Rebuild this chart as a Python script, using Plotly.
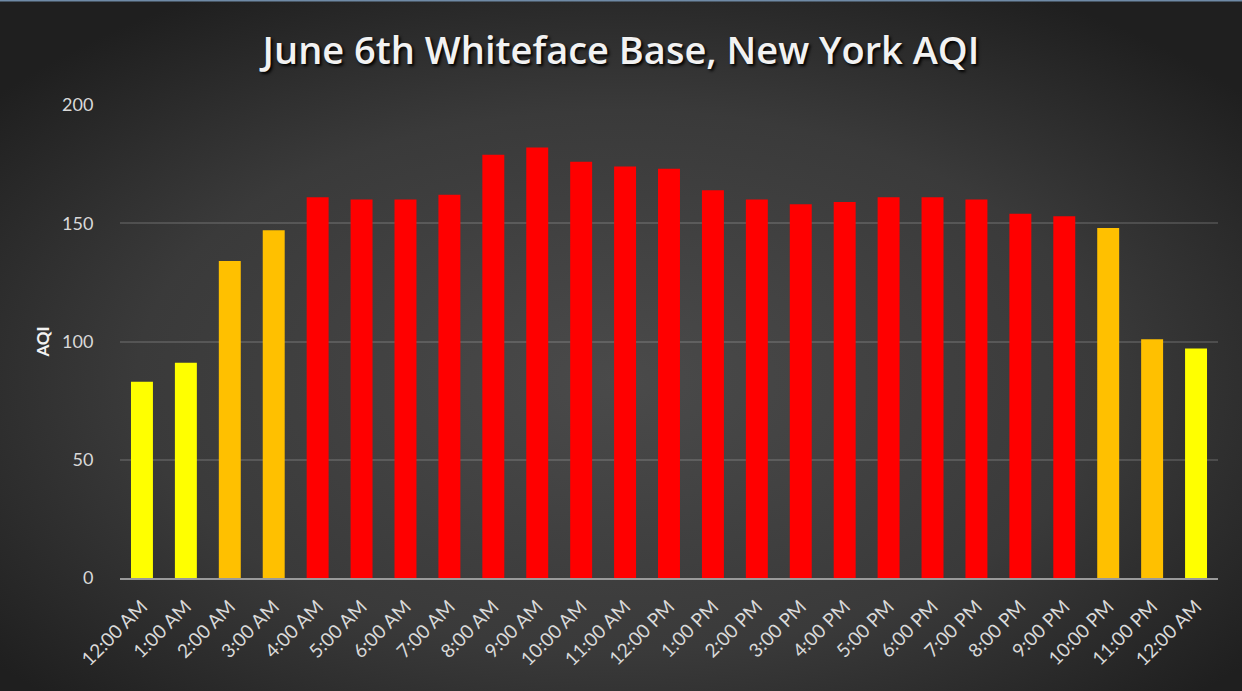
import base64
import plotly.graph_objects as go

# Hourly AQI readings, June 6th, Whiteface Base (NY)
hours = ["12:00 AM", "1:00 AM", "2:00 AM", "3:00 AM", "4:00 AM", "5:00 AM",
         "6:00 AM", "7:00 AM", "8:00 AM", "9:00 AM", "10:00 AM", "11:00 AM",
         "12:00 PM", "1:00 PM", "2:00 PM", "3:00 PM", "4:00 PM", "5:00 PM",
         "6:00 PM", "7:00 PM", "8:00 PM", "9:00 PM", "10:00 PM", "11:00 PM",
         "12:00 AM"]
aqi = [83, 91, 134, 147, 161, 160, 160, 162, 179, 182, 176, 174,
       173, 164, 160, 158, 159, 161, 161, 160, 154, 153, 148, 101, 97]

y_ticks = [0, 50, 100, 150, 200]


def aqi_color(v):
    # EPA category colours: moderate / unhealthy for sensitive groups / unhealthy
    if v <= 100:
        return "#FFFF00"
    if v <= 150:
        return "#FFC000"
    return "#FF0000"


colors = ["#FFC000" if v == 101 else aqi_color(v) for v in aqi]

W, H = 1242, 691
L, R, T, B = 120, 24, 105, 113
pw, ph = W - L - R, H - T - B

# radial dark-grey backdrop
svg = f"""<svg xmlns='http://www.w3.org/2000/svg' width='{W}' height='{H}'>
<defs><radialGradient id='g' cx='50%' cy='55%' r='65%'>
<stop offset='0%' stop-color='#4a4a4a'/>
<stop offset='60%' stop-color='#3a3a3a'/>
<stop offset='100%' stop-color='#1f1f1f'/>
</radialGradient></defs>
<rect width='{W}' height='{H}' fill='url(#g)'/>
</svg>"""
bg_uri = "data:image/svg+xml;base64," + base64.b64encode(svg.encode()).decode()

x_pos = list(range(len(hours)))

fig = go.Figure()
fig.add_trace(go.Bar(
    x=x_pos,
    y=aqi,
    width=0.5,
    marker=dict(color=colors, line=dict(width=0)),
    hovertext=hours,
))

fig.update_layout(
    width=W, height=H,
    margin=dict(l=L, r=R, t=T, b=B),
    paper_bgcolor="#2b2b2b",
    plot_bgcolor="rgba(0,0,0,0)",
    showlegend=False,
    title=dict(
        text="June 6th Whiteface Base, New York AQI",
        x=0.5, xref="container", xanchor="center",
        y=1 - 51 / H, yref="container", yanchor="middle",
        font=dict(family="Open Sans", size=38, color="#f2f2f2", weight=600,
                  shadow="2px 2px 3px #000000"),
    ),
    images=[dict(
        source=bg_uri, xref="paper", yref="paper",
        x=-L / pw, y=1 + T / ph, sizex=W / pw, sizey=H / ph,
        xanchor="left", yanchor="top", sizing="stretch", layer="below",
    )],
    xaxis=dict(
        tickmode="array", tickvals=x_pos, ticktext=hours,
        tickangle=-45, range=[-0.5, len(hours) - 0.5],
        tickfont=dict(family="Lato", size=19, color="#d9d9d9"),
        showgrid=False, zeroline=False,
        showline=True, linecolor="#9a9a9a", linewidth=2,
        ticks="outside", ticklen=8, tickcolor="rgba(0,0,0,0)",
    ),
    yaxis=dict(
        range=[0, 200], tickvals=y_ticks,
        tickfont=dict(family="Lato", size=18, color="#d9d9d9"),
        gridcolor="rgba(255,255,255,0.14)", gridwidth=2,
        zeroline=False, showline=False,
        ticks="outside", ticklen=22, tickcolor="rgba(0,0,0,0)",
        title=dict(text="<b>AQI</b>", standoff=8,
                   font=dict(family="Lato", size=17, color="#f2f2f2")),
    ),
    shapes=[dict(type="line", xref="paper", yref="paper",
                 x0=-L / pw, x1=1 + R / pw, y0=1 + T / ph, y1=1 + T / ph,
                 line=dict(color="#6f8aa6", width=3))],
)

fig.write_html("out.html")
